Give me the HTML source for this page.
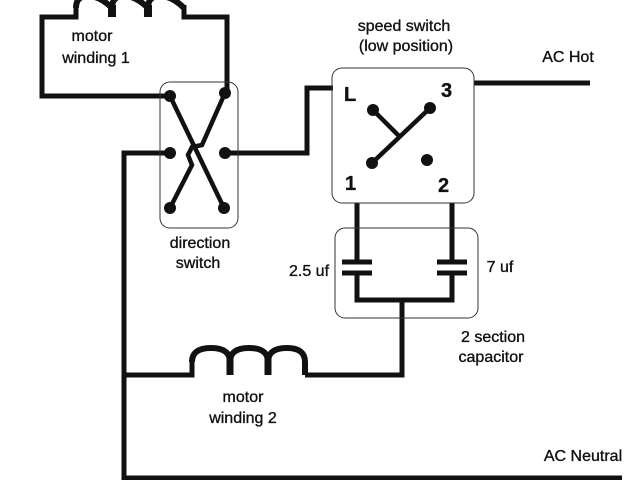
<!DOCTYPE html>
<html><head><style>
html,body{margin:0;padding:0;background:#fff;width:640px;height:480px;overflow:hidden}
svg text{font-family:"Liberation Sans",Arial,sans-serif;fill:#111;stroke:#111;stroke-width:0.35}
</style></head><body>
<svg width="640" height="480" viewBox="0 0 640 480" xmlns="http://www.w3.org/2000/svg">
<g fill="none" stroke="#111" stroke-width="5" stroke-linejoin="miter">
<polyline points="170,96 42,96 42,17 76,17 76,5"/>
<polyline points="227,90 227,17 184,17 184,5"/>
<path d="M76,8 Q76,-4 88,-4 Q100,-4 112,8 Q112,-4 124,-4 Q136,-4 148,8 Q148,-4 160,-4 Q172,-4 184,8" stroke-width="6"/>
<path d="M112,5 L112,17 M148,5 L148,17" stroke-width="8"/>
<polyline points="170,153 124,153 124,478 622,478"/>
<polyline points="225,153 307,153 307,88 333,88"/>
<line x1="474" y1="83" x2="590" y2="83"/>
<line x1="170" y1="96" x2="224" y2="208" stroke-width="4.5"/>
<polyline points="225,93 202,145 192,147 188,155 192,165 170,208" stroke-width="4.5"/>
<line x1="373" y1="110" x2="400" y2="137" stroke-width="4.5"/>
<line x1="430" y1="108" x2="372" y2="163" stroke-width="4.5"/>
<polyline points="357,203 357,262"/>
<polyline points="452,203 452,262"/>
<polyline points="357,273 357,300 452,300 452,273"/>
<polyline points="402,300 402,375 305,375"/>
<line x1="342" y1="262" x2="372" y2="262"/>
<line x1="342" y1="273" x2="372" y2="273"/>
<line x1="437" y1="262" x2="467" y2="262"/>
<line x1="437" y1="273" x2="467" y2="273"/>
<polyline points="124,375 192,375 192,362"/>
<path d="M192,362 Q192,348 211,348 Q230,348 230,362 Q230,348 249,348 Q268,348 268,362 Q268,348 287,348 Q305,348 305,362 L305,375" stroke-width="6"/>
<path d="M230,358 L230,375 M268,358 L268,375" stroke-width="7"/>
</g>
<g fill="none" stroke="#333" stroke-width="1">
<rect x="160" y="82" width="78" height="146" rx="10"/>
<rect x="332" y="68" width="142" height="135" rx="10"/>
<rect x="335" y="228" width="143" height="90" rx="10"/>
</g>
<g fill="#111">
<circle cx="170" cy="96" r="6"/><circle cx="225" cy="93" r="6"/>
<circle cx="170" cy="153" r="6"/><circle cx="225" cy="153" r="6"/>
<circle cx="170" cy="208" r="6"/><circle cx="224" cy="208" r="6"/>
<circle cx="373" cy="110" r="6"/><circle cx="430" cy="108" r="6"/>
<circle cx="372" cy="163" r="6"/><circle cx="427" cy="160" r="6"/>
</g>
<g font-size="16" text-anchor="middle">
<text x="92" y="41">motor</text>
<text x="96" y="63">winding 1</text>
<text x="200" y="248">direction</text>
<text x="198" y="268">switch</text>
<text x="404" y="31">speed switch</text>
<text x="406" y="51">(low position)</text>
<text x="568" y="62">AC Hot</text>
<text x="309" y="276">2.5 uf</text>
<text x="500" y="272">7 uf</text>
<text x="493" y="342">2 section</text>
<text x="491" y="362">capacitor</text>
<text x="243" y="402">motor</text>
<text x="243" y="423">winding 2</text>
<text x="583" y="461">AC Neutral</text>
</g>
<g font-size="20" font-weight="bold">
<text x="344" y="101">L</text>
<text x="441" y="97">3</text>
<text x="345" y="190">1</text>
<text x="438" y="192">2</text>
</g>
</svg>
</body></html>
